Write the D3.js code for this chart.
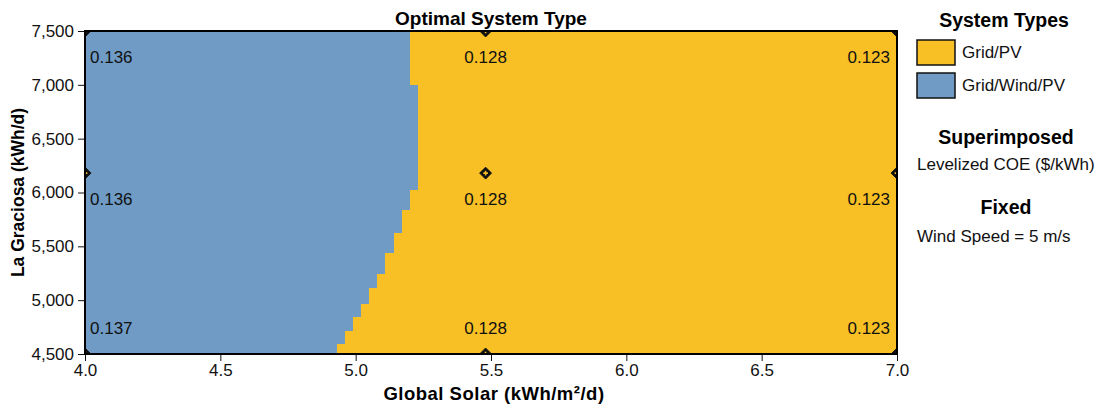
<!DOCTYPE html>
<html>
<head>
<meta charset="utf-8">
<script src="https://cdn.jsdelivr.net/npm/d3@7"></script>
<style>
  body { margin: 0; background: #fff; }
  svg { font-family: "Liberation Sans", Arial, sans-serif; }
</style>
</head>
<body>
<svg id="chart" width="1103" height="405"></svg>
<script>
// Boundary between the two system types, one step per load band (kWh/d)
const bandLow  = [7000, 6030, 5840, 5625, 5440, 5250, 5120, 4965, 4845, 4720, 4600, 4500];
const bandHigh = [7500, 7000, 6030, 5840, 5625, 5440, 5250, 5120, 4965, 4845, 4720, 4600];
const boundarySolar = [5.20, 5.23, 5.20, 5.17, 5.14, 5.11, 5.08, 5.05, 5.02, 4.99, 4.96, 4.93];

// Superimposed levelized COE at the sensitivity points
const solarPoints = [4.0, 5.48, 7.0];
const loadPoints = [7500, 6180, 4500];
const coeValues = [
  [0.136, 0.128, 0.123],
  [0.136, 0.128, 0.123],
  [0.137, 0.128, 0.123]
];

const systemTypes = ["Grid/PV", "Grid/Wind/PV"];
const typeColors = ["#f8c025", "#6f9bc5"];

const xTicks = [4.0, 4.5, 5.0, 5.5, 6.0, 6.5, 7.0];
const yTicks = [4500, 5000, 5500, 6000, 6500, 7000, 7500];

const svg = d3.select("#chart");
const margin = { left: 85, right: 206, top: 31, bottom: 51 };
const width = 1103 - margin.left - margin.right;
const height = 405 - margin.top - margin.bottom;

const x = d3.scaleLinear().domain([4, 7]).range([0, width]);
const y = d3.scaleLinear().domain([4500, 7500]).range([height, 0]);

const g = svg.append("g").attr("transform", `translate(${margin.left},${margin.top})`);

g.append("clipPath").attr("id", "plot-clip")
  .append("rect").attr("width", width).attr("height", height);

const plot = g.append("g").attr("clip-path", "url(#plot-clip)");

// Grid/PV everywhere, then Grid/Wind/PV bands on the left
plot.append("rect")
  .attr("width", width).attr("height", height)
  .attr("fill", typeColors[0]);

plot.selectAll("rect.band")
  .data(boundarySolar)
  .join("rect")
  .attr("class", "band")
  .attr("x", x(4))
  .attr("y", (d, i) => y(bandHigh[i]))
  .attr("width", d => x(d) - x(4))
  .attr("height", (d, i) => y(bandLow[i]) - y(bandHigh[i]) + 0.5)
  .attr("fill", typeColors[1])
  .attr("shape-rendering", "crispEdges");

// COE labels and markers
const points = [];
loadPoints.forEach((load, r) => {
  solarPoints.forEach((solar, c) => {
    points.push({ solar, load, r, c, v: coeValues[r][c] });
  });
});

plot.selectAll("path.marker")
  .data(points)
  .join("path")
  .attr("class", "marker")
  .attr("transform", d => `translate(${x(d.solar)},${y(d.load)})`)
  .attr("d", d3.symbol(d3.symbolDiamond2, 90))
  .attr("fill", "#111")
  .attr("stroke", "#111");

plot.selectAll("path.marker-in")
  .data(points)
  .join("path")
  .attr("class", "marker-in")
  .attr("transform", d => `translate(${x(d.solar)},${y(d.load)})`)
  .attr("d", d3.symbol(d3.symbolCross, 12))
  .attr("fill", typeColors[0]);

plot.selectAll("text.coe")
  .data(points)
  .join("text")
  .attr("class", "coe")
  .attr("x", d => x(d.solar) + (d.c === 0 ? 5 : d.c === 2 ? -7 : 0))
  .attr("y", d => y(d.load) + (d.r === 2 ? -20 : 32))
  .attr("text-anchor", d => d.c === 0 ? "start" : d.c === 2 ? "end" : "middle")
  .attr("font-size", 17)
  .attr("fill", "#111")
  .text(d => d3.format(".3f")(d.v));

// Axes
const xAxis = g.append("g").attr("transform", `translate(0,${height})`);
xAxis.call(d3.axisBottom(x).tickValues(d3.range(40, 71).map(v => v / 10)).tickSize(4).tickFormat(""));
xAxis.call(d3.axisBottom(x).tickValues(xTicks).tickSize(7).tickFormat(d3.format(".1f")));
xAxis.selectAll("text").attr("font-size", 17).attr("fill", "#111").attr("dy", "0.72em").attr("y", 10);

const yAxis = g.append("g");
yAxis.call(d3.axisLeft(y).tickValues(d3.range(4500, 7501, 100)).tickSize(4).tickFormat(""));
yAxis.call(d3.axisLeft(y).tickValues(yTicks).tickSize(7).tickFormat(d3.format(",")));
yAxis.selectAll("text").attr("font-size", 17).attr("fill", "#111").attr("x", -11);

g.selectAll(".domain").remove();
g.selectAll(".tick line").attr("stroke", "#111");

// Frame
g.append("rect")
  .attr("width", width).attr("height", height)
  .attr("fill", "none").attr("stroke", "#000").attr("stroke-width", 2);

// Titles
svg.append("text")
  .attr("x", margin.left + width / 2).attr("y", 25)
  .attr("text-anchor", "middle").attr("font-size", 19).attr("font-weight", "bold")
  .text("Optimal System Type");

svg.append("text")
  .attr("x", margin.left + width / 2 + 3).attr("y", 400)
  .attr("text-anchor", "middle").attr("font-size", 18.5).attr("font-weight", "bold")
  .attr("letter-spacing", 0.5)
  .text("Global Solar (kWh/m²/d)");

svg.append("text")
  .attr("transform", `translate(24,${margin.top + height / 2}) rotate(-90)`)
  .attr("text-anchor", "middle").attr("font-size", 17.5).attr("font-weight", "bold")
  .text("La Graciosa (kWh/d)");

// Legend
const lg = svg.append("g");
lg.append("text").attr("x", 1004).attr("y", 27)
  .attr("text-anchor", "middle").attr("font-size", 19.5).attr("font-weight", "bold")
  .text("System Types");

const items = lg.selectAll("g.item")
  .data(systemTypes)
  .join("g")
  .attr("class", "item")
  .attr("transform", (d, i) => `translate(917,${40 + i * 33})`);
items.append("rect")
  .attr("width", 38).attr("height", 25)
  .attr("fill", (d, i) => typeColors[i])
  .attr("stroke", "#111").attr("stroke-width", 1.5);
items.append("text")
  .attr("x", 45).attr("y", 18)
  .attr("font-size", 17).attr("fill", "#111")
  .text(d => d);

lg.append("text").attr("x", 1006).attr("y", 144)
  .attr("text-anchor", "middle").attr("font-size", 19.5).attr("font-weight", "bold")
  .text("Superimposed");
lg.append("text").attr("x", 917).attr("y", 170)
  .attr("font-size", 17).attr("fill", "#111")
  .text("Levelized COE ($/kWh)");
lg.append("text").attr("x", 1006).attr("y", 214)
  .attr("text-anchor", "middle").attr("font-size", 19.5).attr("font-weight", "bold")
  .text("Fixed");
lg.append("text").attr("x", 917).attr("y", 242)
  .attr("font-size", 17).attr("fill", "#111")
  .text("Wind Speed = 5 m/s");
</script>
</body>
</html>
